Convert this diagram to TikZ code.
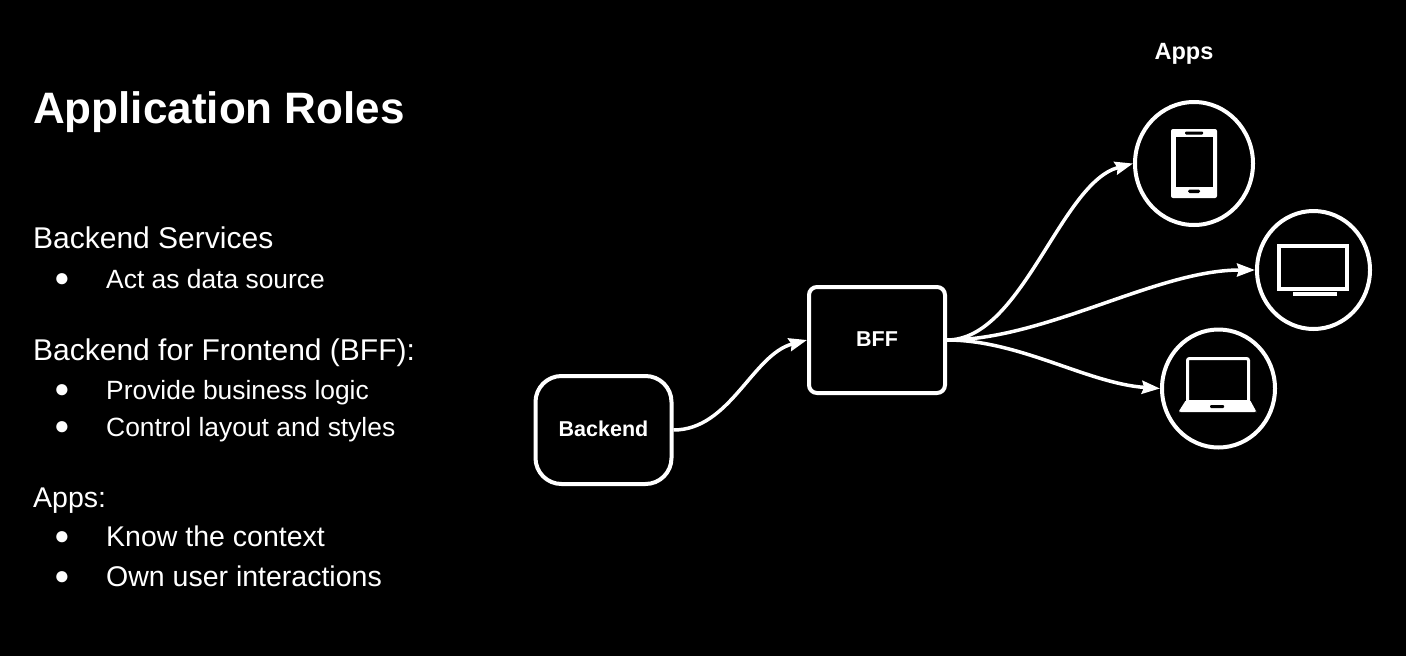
\documentclass[tikz,border=0pt]{standalone}
\usepackage{fontspec}
\setmainfont{Liberation Sans}
\usetikzlibrary{arrows.meta, shapes.geometric}
\tikzset{
	titlenode/.style={
			anchor=base west,
			inner sep=0pt,
			text=white,
			font=\fontsize{44}{50}\selectfont\bfseries
		},
	headnode/.style={
			anchor=base west,
			inner sep=0pt,
			text=white,
			font=\fontsize{30}{34}\selectfont
		},
	itemnode/.style={
			headnode,
			font=\fontsize{26.4}{32}\selectfont
		},
	appitemnode/.style={
			headnode,
			font=\fontsize{28.5}{32}\selectfont
		},
	dotnode/.style={
			anchor=center,
			inner sep=0pt,
			text=white,
			font=\fontsize{26}{28}\selectfont
		},
	backendnode/.style={
			draw=white,
			line width=4pt,
			rounded corners=26pt,
			text=white,
			minimum width=136pt,
			minimum height=108pt,
			font=\fontsize{21.5}{26}\selectfont\bfseries
		},
	bffnode/.style={
			backendnode,
			rounded corners=8pt,
			minimum height=106pt
		},
	appnode/.style={
			ellipse,
			draw=white,
			line width=4pt,
			inner sep=0pt,
			minimum width=113pt,
			minimum height=118pt
		},
	flow/.style={
			white,
			line width=3.5pt,
			-{Stealth[length=18pt,width=13pt,inset=2pt]}
		}
}
\begin{document}
\begin{tikzpicture}[x=1pt, y=-1pt]
\fill[black] (0,0) rectangle (1406,656);
\useasboundingbox (0,0) rectangle (1406,656);

\node[titlenode] (title) at (33,123) {Application Roles};

\node[headnode] (h1) at (33,248) {Backend Services};
\node[dotnode] (d1) at (62,280) {●};
\node[itemnode] (i1) at (106,288) {Act as data source};

\node[headnode] (h2) at (33,360) {Backend for Frontend (BFF):};
\node[dotnode] (d2) at (62,391) {●};
\node[itemnode] (i2) at (106,399) {Provide business logic};
\node[dotnode] (d3) at (62,428) {●};
\node[itemnode] (i3) at (106,436) {Control layout and styles};

\node[headnode, font=\fontsize{28.5}{34}\selectfont] (h3) at (33,507) {Apps:};
\node[dotnode] (d4) at (62,538) {●};
\node[appitemnode] (i4) at (106,546) {Know the context};
\node[dotnode] (d5) at (62,578) {●};
\node[appitemnode] (i5) at (106,586) {Own user interactions};

\node[anchor=center, inner sep=0pt, text=white, font=\fontsize{23.5}{26}\selectfont\bfseries] (apps) at (1184,54) {Apps};

\node[backendnode] (backend) at (603.5,430) {\raisebox{2pt}{Backend}};
\node[bffnode] (bff) at (877,340) {\raisebox{2pt}{BFF}};
\node[appnode, minimum width=118pt, minimum height=123pt] (phone) at (1194,163.5) {};
\node[appnode] (tv) at (1313.5,270) {};
\node[appnode] (laptop) at (1218.5,388.5) {};

\draw[flow] (backend.east) to[out=0, in=195, looseness=0.9] (bff.west);
\draw[flow] (bff.east) to[out=0, in=195, looseness=0.75] (phone.west);
\draw[flow] (bff.east) to[out=0, in=180, looseness=0.8] (tv.west);
\draw[flow] (bff.east) to[out=0, in=176, looseness=0.85] (laptop.west);

% phone
\fill[white, rounded corners=2pt] (1171,129) rectangle (1217,198);
\fill[black] (1176,137) rectangle (1213,187);
\fill[black, rounded corners=1pt] (1185,131.5) rectangle (1203,134.5);
\fill[black, rounded corners=1.5pt] (1188,189.5) rectangle (1200,193);

% tv
\draw[white, line width=4pt] (1279,246) rectangle (1347,289);
\fill[white] (1293,292) rectangle (1337,296);

% laptop
\draw[white, line width=3pt, rounded corners=2pt] (1187.5,402) -- (1187.5,358.5) -- (1248.5,358.5) -- (1248.5,402);
\fill[white, rounded corners=1.5pt] (1186,400) -- (1179,411) -- (1179,412) -- (1256,412) -- (1256,411) -- (1250,400) -- cycle;
\fill[black, rounded corners=1pt] (1210,405) rectangle (1224,408);
\end{tikzpicture}
\end{document}
